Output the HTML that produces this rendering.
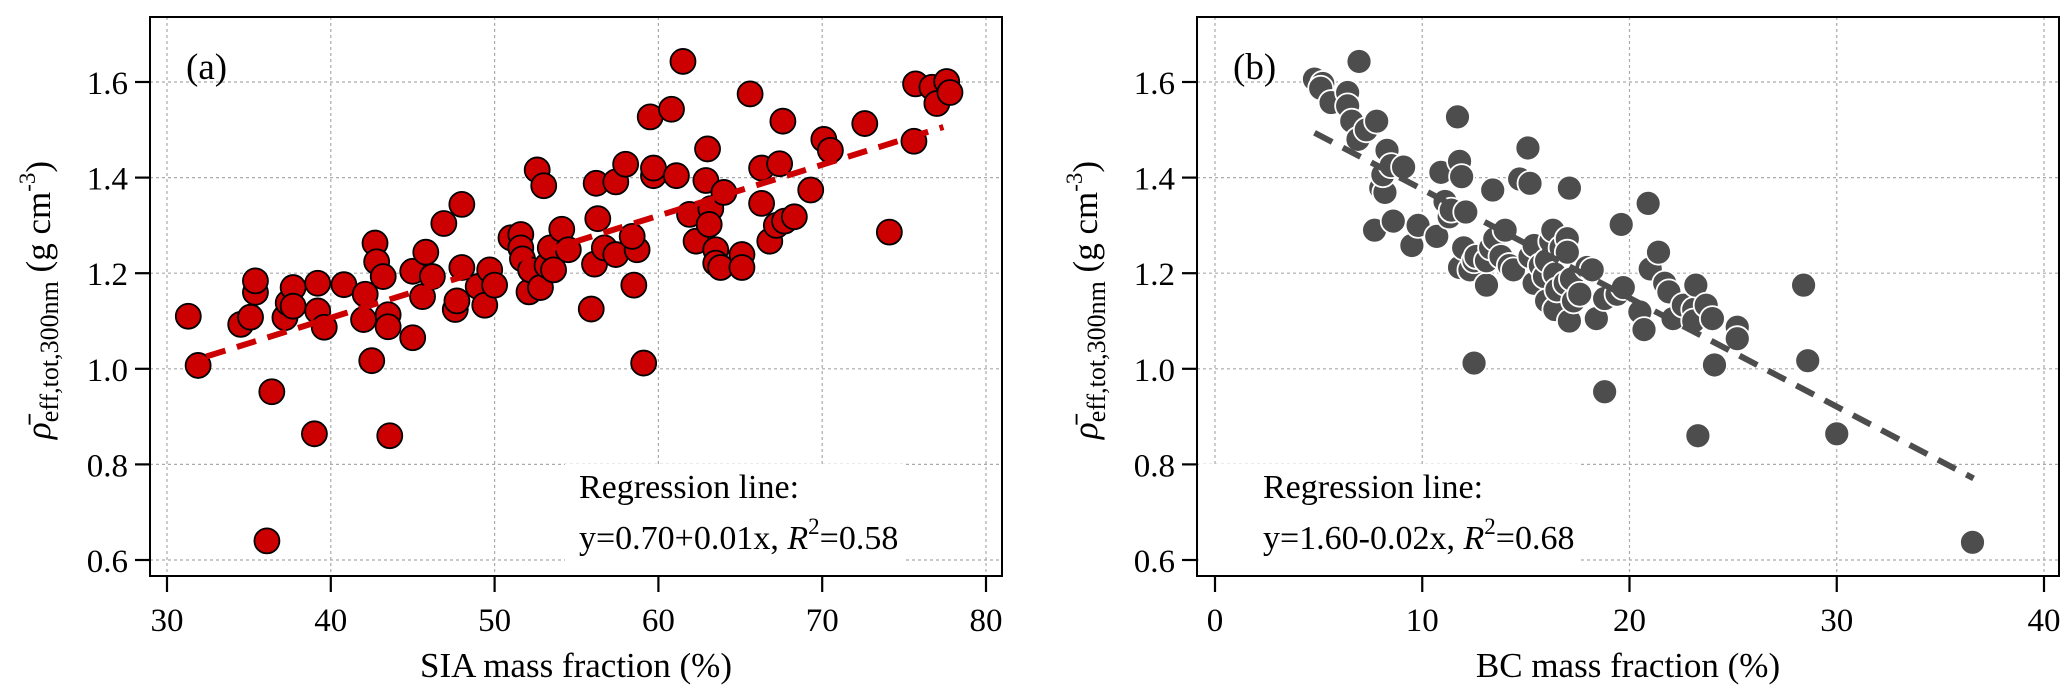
<!DOCTYPE html>
<html><head><meta charset="utf-8"><style>
html,body{margin:0;padding:0;background:#fff;}
svg{display:block;font-family:"Liberation Serif",serif;}
</style></head><body>
<svg id="chart" width="2067" height="695" viewBox="0 0 2067 695"></svg>
<script>
const siaX=[31.3,31.9,34.5,35.1,35.4,35.4,36.4,36.1,37.2,37.4,37.7,37.7,39.0,39.2,39.2,39.6,40.8,42.0,42.1,42.5,42.7,42.8,43.2,43.5,43.6,43.5,45.0,45.0,45.6,45.8,46.2,46.9,47.6,47.7,48.0,48.0,49.0,49.4,49.7,50.0,51.0,51.6,51.6,51.7,52.1,52.2,52.6,53.0,52.8,53.2,53.4,53.6,54.1,54.5,55.9,56.1,56.2,56.3,56.7,57.4,57.4,58.0,58.5,58.7,58.4,59.1,59.5,59.7,59.7,60.8,61.1,61.5,61.9,62.3,62.9,63.0,63.2,63.1,63.5,63.5,63.8,64.0,65.1,65.1,65.6,66.3,66.3,66.8,67.2,67.4,67.6,67.7,68.3,69.3,70.1,70.5,72.6,74.1,75.6,75.7,76.7,77.0,77.6,77.8];
const siaY=[1.11,1.007,1.093,1.108,1.16,1.184,0.952,0.64,1.107,1.138,1.17,1.131,0.864,1.179,1.121,1.087,1.176,1.103,1.156,1.017,1.263,1.224,1.193,1.113,0.86,1.088,1.065,1.204,1.151,1.244,1.193,1.304,1.124,1.142,1.212,1.344,1.172,1.133,1.207,1.175,1.274,1.281,1.253,1.23,1.161,1.207,1.416,1.383,1.17,1.216,1.253,1.207,1.292,1.249,1.125,1.219,1.388,1.314,1.253,1.239,1.391,1.428,1.175,1.249,1.277,1.012,1.527,1.404,1.42,1.543,1.404,1.643,1.323,1.267,1.394,1.46,1.335,1.302,1.249,1.221,1.212,1.369,1.239,1.212,1.575,1.346,1.42,1.267,1.3,1.429,1.518,1.309,1.318,1.374,1.48,1.457,1.513,1.286,1.476,1.596,1.589,1.555,1.601,1.578];
const bcX=[4.8,5.2,5.1,5.6,6.4,6.4,6.6,6.95,6.9,7.3,7.8,7.7,8.3,8.0,8.2,8.1,8.5,8.6,9.1,9.5,9.8,10.7,10.9,11.1,11.3,11.4,11.7,11.8,11.9,11.8,12.0,12.1,12.3,12.5,12.5,12.6,13.1,13.1,13.4,13.3,13.5,13.8,14.0,14.2,14.4,14.7,15.1,15.2,15.2,15.4,15.4,15.7,15.9,16.0,16.0,16.2,16.3,16.4,16.4,16.5,16.7,16.9,17.0,17.1,17.0,17.1,17.3,17.2,17.6,17.95,18.2,18.4,18.8,18.8,19.4,19.6,19.7,20.5,20.7,20.9,21.0,21.4,21.7,21.9,22.1,22.6,23.1,23.2,23.3,23.1,23.7,24.0,24.1,25.2,25.2,28.4,28.6,30.0,36.55];
const bcY=[1.606,1.597,1.587,1.557,1.578,1.55,1.518,1.643,1.48,1.5,1.518,1.29,1.457,1.378,1.369,1.406,1.425,1.309,1.422,1.258,1.3,1.277,1.411,1.35,1.318,1.332,1.527,1.434,1.402,1.212,1.253,1.328,1.207,1.226,1.012,1.235,1.175,1.226,1.374,1.253,1.272,1.235,1.29,1.216,1.207,1.397,1.462,1.388,1.235,1.179,1.258,1.216,1.193,1.142,1.226,1.267,1.29,1.198,1.124,1.165,1.253,1.179,1.272,1.378,1.244,1.1,1.142,1.188,1.156,1.212,1.207,1.105,1.147,0.952,1.156,1.302,1.17,1.119,1.082,1.346,1.209,1.244,1.179,1.161,1.105,1.133,1.124,1.175,0.86,1.1,1.133,1.105,1.008,1.087,1.063,1.175,1.017,0.864,0.637];
const siaTicks=[30,40,50,60,70,80];
const bcTicks=[0,10,20,30,40];
const yTicks=[0.6,0.8,1.0,1.2,1.4,1.6];
const siaFit=[0.68,0.01067];
const bcFit=[1.603,-0.02274];

const NS="http://www.w3.org/2000/svg";
const svg=document.getElementById('chart');
function mk(tag,attrs,parent,txt){const e=document.createElementNS(NS,tag);for(const k in attrs)e.setAttribute(k,attrs[k]);if(txt!==undefined)e.textContent=txt;(parent||svg).appendChild(e);return e;}

function panel(cfg){
  const g=mk('g',{});
  
  
  const sx=v=>cfg.x0px+(v-cfg.x0)*(cfg.x1px-cfg.x0px)/(cfg.x1-cfg.x0);
  const sy=v=>560+(v-0.6)*(82-560)/1.0;
  cfg.xticks.forEach(t=>{const l=mk('line',{x1:sx(t),x2:sx(t),y1:17,y2:576,stroke:'#aaa','stroke-width':1.2,'stroke-dasharray':'3 3'},g);});
  yTicks.forEach(t=>{const l=mk('line',{x1:cfg.L,x2:cfg.R,y1:sy(t),y2:sy(t),stroke:'#aaa','stroke-width':1.2,'stroke-dasharray':'3 3'},g);});
  const bx=mk('rect',{x:cfg.boxX,y:464,width:cfg.boxW,height:110,fill:'#fff'},g);
  
  
  for(let i=0;i<cfg.xs.length;i++){
    const c=mk('circle',{cx:sx(cfg.xs[i]),cy:sy(cfg.ys[i]),r:12.5,fill:cfg.fill,stroke:cfg.stroke,'stroke-width':1.8},g);
    
    
  }
  const fl=mk('line',{x1:sx(cfg.fx0),y1:sy(cfg.fit[0]+cfg.fit[1]*cfg.fx0),x2:sx(cfg.fx1),y2:sy(cfg.fit[0]+cfg.fit[1]*cfg.fx1),stroke:cfg.lineColor,'stroke-width':6,'stroke-dasharray':'20 12'},g);
  
  
  const fr=mk('rect',{x:cfg.L,y:17,width:cfg.R-cfg.L,height:559,fill:'none',stroke:'#000','stroke-width':2},g);
  
  
  cfg.xticks.forEach(t=>{
    const l=mk('line',{x1:sx(t),x2:sx(t),y1:576,y2:592,stroke:'#000','stroke-width':2.2},g);
    
    
    const tx=mk('text',{x:sx(t),y:631,'font-size':33,'text-anchor':'middle'},g,String(t));
    
    
  });
  yTicks.forEach(t=>{
    const l=mk('line',{x1:cfg.L-15,x2:cfg.L,y1:sy(t),y2:sy(t),stroke:'#000','stroke-width':2.2},g);
    
    
    const tx=mk('text',{x:cfg.L-22,y:sy(t)+12,'font-size':33,'text-anchor':'end'},g,t.toFixed(1));
    
    
  });
  const pl=mk('text',{x:cfg.L+36,y:79,'font-size':37},g,cfg.label);
  
  
  const r1=mk('text',{x:cfg.annX,y:498,'font-size':34},g,'Regression line:');
  
  
  const r2=mk('text',{x:cfg.annX,y:549,'font-size':34},g);
  
  
  mk('tspan',{},r2,cfg.eq+', ');
  mk('tspan',{'font-style':'italic'},r2,'R');
  mk('tspan',{dy:-15,'font-size':23},r2,'2');
  mk('tspan',{dy:15},r2,'='+cfg.r2);
  const xl=mk('text',{x:(cfg.L+cfg.R)/2,y:677,'font-size':35,'text-anchor':'middle'},g,cfg.xlabel);
  
  
  const yl=mk('text',{transform:`translate(${cfg.L-100},300) rotate(-90)`,'font-size':35,'text-anchor':'middle'},g);
  
  
  mk('tspan',{'font-style':'italic'},yl,'ρ̄');
  mk('tspan',{dy:8,'font-size':26},yl,'eff,tot,300nm');
  mk('tspan',{dy:-8},yl,' (g cm');
  mk('tspan',{dy:-15,'font-size':23},yl,'-3');
  mk('tspan',{dy:15},yl,')');
}
panel({name:'panel-a-sia',xs:siaX,ys:siaY,xticks:siaTicks,x0:30,x1:80,x0px:167,x1px:986,L:150,R:1002,fill:'#cc0000',stroke:'#000',lineColor:'#cc0000',fit:siaFit,fx0:32.4,fx1:77.4,label:'(a)',annX:579,boxX:565,boxW:340,eq:'y=0.70+0.01x',r2:'0.58',xlabel:'SIA mass fraction (%)'});
panel({name:'panel-b-bc',xs:bcX,ys:bcY,xticks:bcTicks,x0:0,x1:40,x0px:1215,x1px:2044,L:1197,R:2059,fill:'#4d4d4d',stroke:'#fff',lineColor:'#4d4d4d',fit:bcFit,fx0:4.8,fx1:36.6,label:'(b)',annX:1263,boxX:1199,boxW:382,eq:'y=1.60-0.02x',r2:'0.68',xlabel:'BC mass fraction (%)'});
</script>
</body></html>
